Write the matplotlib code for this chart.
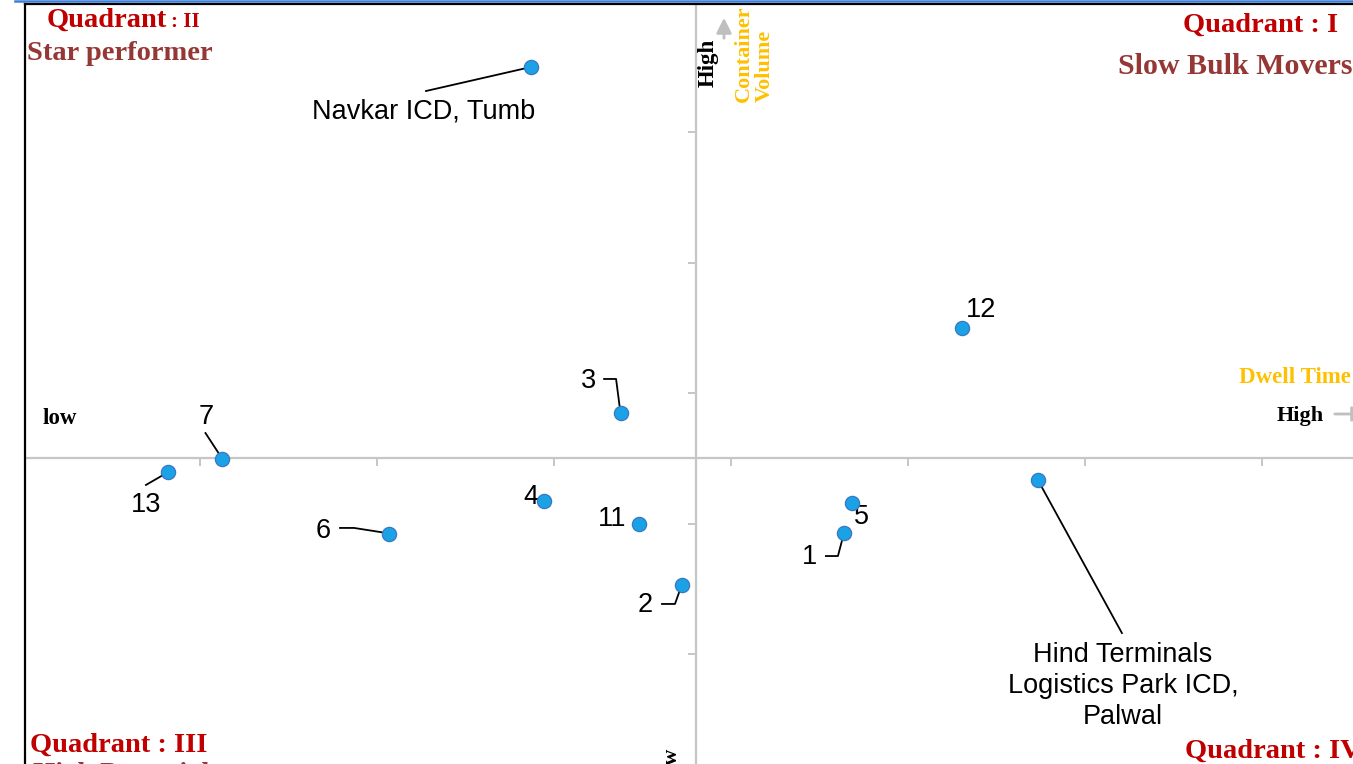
import matplotlib
matplotlib.use("Agg")
import matplotlib.pyplot as plt
from matplotlib.lines import Line2D
from matplotlib.transforms import IdentityTransform

# dwell time (x) vs container volume (y), both in axis units
labels = ["Navkar ICD, Tumb", "12", "3", "7", "13", "4", "11", "6", "2", "5", "1",
          "Hind Terminals\nLogistics Park ICD,\nPalwal"]
dwell = [2.870, 5.305, 3.379, 1.127, 0.819, 2.944, 3.480, 2.068, 3.723, 4.684, 4.638, 5.734]
volume = [5.498, 3.498, 2.847, 2.494, 2.395, 2.172, 1.996, 1.920, 1.529, 2.157, 1.927, 2.333]
x_ticks = [1, 2, 3, 4, 5, 6, 7]
y_ticks = [1, 2, 3, 4, 5]
x_mid = 3.8
y_mid = 2.5

# label offsets and leader paths in pixels (dx right, dy down) from each point
label_off = [(-107, 44), (19, -18), (-33, -32), (-16, -42), (-22, 33), (-13, -4),
             (-27, -5), (-66, -3), (-37, 20), (9, 14), (-34, 24), (85, 206)]
leaders = [[(-105, 24), (0, 0)], None, [(-17, -34), (-5, -34), (-1, -3)],
           [(-17, -26), (-2, -3)], [(-22, 13), (-3, 2)], None, None,
           [(-49, -6), (-35, -6), (-3, -1)], [(-20, 19), (-7, 19), (-2, 5)], None,
           [(-18, 23), (-6, 23), (-1, 4)], [(0, 0), (84, 153)]]

W, H = 1353, 764
fig = plt.figure(figsize=(W / 100, H / 100), dpi=100)
# axes box runs past the right and bottom edges like the cropped original
ax = fig.add_axes([25 / W, (H - 800) / H, (1400 - 25) / W, (800 - 4) / H])
ax.set_xlim((25 - 23) / 177, (1400 - 23) / 177)
ax.set_ylim((784.5 - 800) / 130.5, (784.5 - 4) / 130.5)
ax.set_xticks([])
ax.set_yticks([])
for s in ["right", "bottom"]:
    ax.spines[s].set_visible(False)
for s in ["left", "top"]:
    ax.spines[s].set_linewidth(1.6)
    ax.spines[s].set_color("black")

grey = "#c6c6c6"
ax.axhline(y_mid, color=grey, lw=1.6, zorder=1)
ax.axvline(x_mid, color=grey, lw=1.6, zorder=1)
ax.plot(x_ticks, [y_mid] * len(x_ticks), ls="none", marker=3, ms=6, mew=1.4, color=grey)
ax.plot([x_mid] * len(y_ticks), y_ticks, ls="none", marker=0, ms=5.5, mew=1.4, color=grey)

ax.scatter(dwell, volume, s=105, color="#1ba1e6", edgecolors="#3b78c2", linewidths=0.9, zorder=5)

sans = "Liberation Sans"
for i in range(len(labels)):
    X, Y = ax.transData.transform((dwell[i], volume[i]))
    dx, dy = label_off[i]
    ax.annotate(labels[i], xy=(dwell[i], volume[i]), xytext=(dx, -dy), textcoords="offset pixels",
                ha="center", va="center", fontsize=19.5, family=sans, linespacing=1.27)
    if leaders[i]:
        xs = [X + p[0] for p in leaders[i]]
        ys = [Y - p[1] for p in leaders[i]]
        ax.add_line(Line2D(xs, ys, transform=IdentityTransform(), color="black", lw=1.3, zorder=4))

serif = "Liberation Serif"
red = "#c00000"
brown = "#953735"
orange = "#ffc000"


def ftext(x, y, s, **kw):
    kw.setdefault("family", serif)
    kw.setdefault("fontweight", "bold")
    fig.text(x / W, 1 - y / H, s, **kw)


ftext(47, 27, "Quadrant", color=red, fontsize=20.5)
ftext(171, 27, ": II", color=red, fontsize=15)
ftext(27, 60, "Star performer", color=brown, fontsize=20.5)
ftext(1338, 32, "Quadrant : I", color=red, fontsize=20.5, ha="right")
ftext(1118, 74, "Slow Bulk Movers", color=brown, fontsize=21.5)
ftext(30, 752, "Quadrant : III", color=red, fontsize=20.5)
ftext(33, 781, "High Potential", color=brown, fontsize=20.5)
ftext(1185, 758, "Quadrant : IV", color=red, fontsize=20.5)

ftext(1239, 383, "Dwell Time", color=orange, fontsize=16.5)
ftext(1277, 421, "High", color="black", fontsize=16)
ftext(43, 424, "low", color="black", fontsize=16.5)
ftext(708, 63, "High", color="black", fontsize=16.5, rotation=90, ha="center", va="center")
ftext(754, 102, "Container\nVolume", color=orange, fontsize=16, rotation=90,
      ha="center", va="bottom", multialignment="left", linespacing=1.05)
ftext(672, 748, "low", color="black", fontsize=16, rotation=90, ha="center", va="top")

# grey direction arrows
ax.annotate("", xy=(724, H - 15), xytext=(724, H - 41), xycoords="figure pixels",
            textcoords="figure pixels",
            arrowprops=dict(arrowstyle="-|>,head_length=0.9,head_width=0.45", color="#bfbfbf", lw=2))
ax.annotate("", xy=(1370, H - 414), xytext=(1332, H - 414), xycoords="figure pixels",
            textcoords="figure pixels",
            arrowprops=dict(arrowstyle="-|>,head_length=0.9,head_width=0.45", color="#bfbfbf", lw=2))

# blue page rule along the top edge
fig.add_artist(Line2D([15 / W, 1], [1 - 1 / H, 1 - 1 / H], transform=fig.transFigure,
                      color="#3d7fd6", lw=1.8))

fig.savefig("out.png", dpi=100)
